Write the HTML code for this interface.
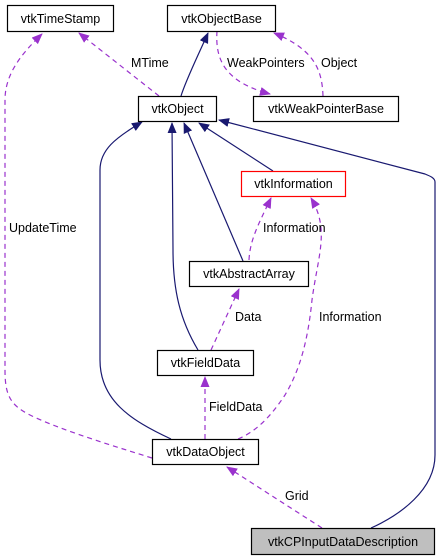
<!DOCTYPE html>
<html><head><style>
body{margin:0;background:#fff;}
svg{display:block;font-family:"Liberation Sans",sans-serif;font-size:12.5px;}
</style></head><body>
<svg width="441" height="560" viewBox="0 0 441 560" xmlns="http://www.w3.org/2000/svg">
<defs>
<marker id="n" markerWidth="11" markerHeight="9" refX="10" refY="4.5" orient="auto" markerUnits="userSpaceOnUse"><path d="M0,0 L11,4.5 L0,9 Z" fill="#191970"/></marker>
<marker id="p" markerWidth="11" markerHeight="9" refX="10" refY="4.5" orient="auto" markerUnits="userSpaceOnUse"><path d="M0,0 L11,4.5 L0,9 Z" fill="#9a32cd"/></marker>
</defs>
<g fill="none" stroke="#191970" stroke-width="1.2">
<path d="M181,96 C186,80 196,60 208,33" marker-end="url(#n)"/>
<path d="M273,171 L199,123" marker-end="url(#n)"/>
<path d="M243,261 L184,123" marker-end="url(#n)"/>
<path d="M198,350 C180,320 173,290 173,250 L172,123" marker-end="url(#n)"/>
<path d="M171,439 C130,420 100,400 100,360 L100,170 C100,150 115,138 142,122" marker-end="url(#n)"/>
<path d="M371,528 C400,515 435,490 435,455 L435,182 C435,178 430,176 425,174 L219,120" marker-end="url(#n)"/>
</g>
<g fill="none" stroke="#9a32cd" stroke-width="1.2" stroke-dasharray="5,4">
<path d="M159,96 L79,33" marker-end="url(#p)"/>
<path d="M152,458 C120,448 60,430 30,415 C10,405 5,395 5,370 L5,100 C5,75 20,55 42,34" marker-end="url(#p)"/>
<path d="M217,31 C215,60 225,82 270,94" marker-end="url(#p)"/>
<path d="M323,96 C322,70 315,50 274,33" marker-end="url(#p)"/>
<path d="M249,260 C250,240 258,225 271,198" marker-end="url(#p)"/>
<path d="M238,439 C260,430 275,410 285,395 C300,370 308,340 312,300 C318,255 330,230 311,198" marker-end="url(#p)"/>
<path d="M211,350 L239,289" marker-end="url(#p)"/>
<path d="M205,439 L205,377" marker-end="url(#p)"/>
<path d="M322,528 L227,467" marker-end="url(#p)"/>
</g>
<g stroke-width="1.2" stroke="#000" fill="#fff">
<rect x="7.5" y="5.5" width="106" height="26"/>
<rect x="167.5" y="5.5" width="108" height="26"/>
<rect x="138.5" y="96.5" width="78" height="25"/>
<rect x="253.5" y="96.5" width="145" height="25"/>
<rect x="241.5" y="171.5" width="104" height="25" stroke="#ff0000"/>
<rect x="189.5" y="261.5" width="119" height="25"/>
<rect x="157.5" y="350.5" width="96" height="25"/>
<rect x="152.5" y="439.5" width="106" height="25"/>
<rect x="251.5" y="528.5" width="183" height="26" fill="#bfbfbf"/>
</g>
<g fill="#000" text-anchor="middle">
<text x="60.5" y="23">vtkTimeStamp</text>
<text x="221.5" y="23">vtkObjectBase</text>
<text x="177.5" y="113">vtkObject</text>
<text x="326" y="113">vtkWeakPointerBase</text>
<text x="293.5" y="188">vtkInformation</text>
<text x="249" y="278">vtkAbstractArray</text>
<text x="205.5" y="367">vtkFieldData</text>
<text x="205.5" y="456">vtkDataObject</text>
<text x="343" y="546">vtkCPInputDataDescription</text>
</g>
<g fill="#000">
<text x="131" y="67">MTime</text>
<text x="227" y="67">WeakPointers</text>
<text x="321" y="67">Object</text>
<text x="9" y="232">UpdateTime</text>
<text x="263" y="232">Information</text>
<text x="235" y="321">Data</text>
<text x="319" y="321">Information</text>
<text x="209" y="411">FieldData</text>
<text x="285" y="500">Grid</text>
</g>
</svg>
</body></html>
